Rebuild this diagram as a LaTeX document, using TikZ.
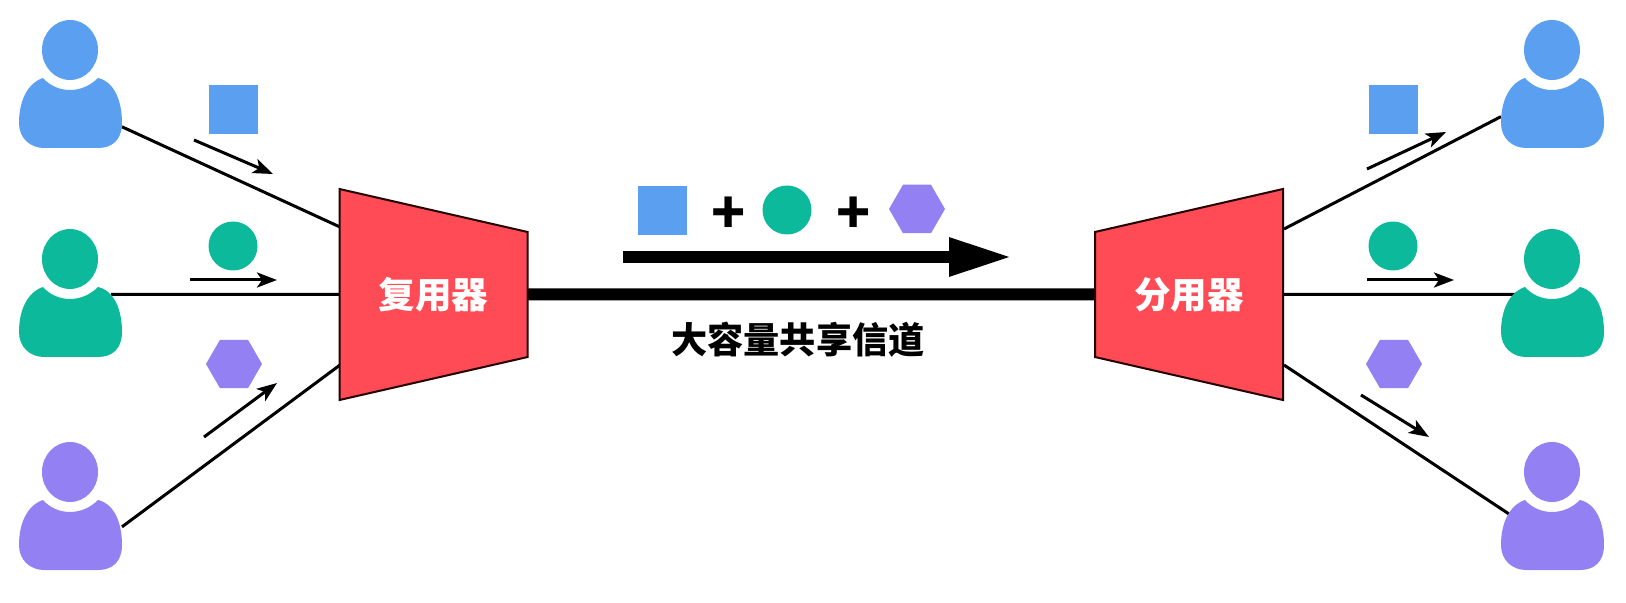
\documentclass[tikz,border=0pt]{standalone}
\usepackage{fontspec}
\newfontfamily\cjk{Noto Sans CJK SC}
\usetikzlibrary{shapes.geometric,arrows.meta,backgrounds}
\definecolor{userblue}{RGB}{91,160,240}
\definecolor{usergreen}{RGB}{12,185,155}
\definecolor{userpurple}{RGB}{147,128,242}
\definecolor{muxred}{RGB}{255,75,85}
\tikzset{
  person/.pic={
    \fill[pic actions] (0,0) ellipse [x radius=28,y radius=30];
    \fill[pic actions] (-27,28) .. controls (-20,36) and (-10,40) .. (0,40)
      .. controls (10,40) and (20,36) .. (28,28)
      .. controls (45,32) and (52,52) .. (52,73)
      .. controls (52,90) and (42,98) .. (28,98) -- (-26,98)
      .. controls (-40,98) and (-51,88) .. (-51,73)
      .. controls (-51,50) and (-42,33) .. (-27,28) -- cycle;
    \node[minimum width=10.3mm,minimum height=7mm,inner sep=0pt,outer sep=0pt] (-body) at (0.5,63) {};
  },
  link/.style={line width=0.3mm},
  flow/.style={-{Stealth[length=2mm,width=1.5mm,inset=0.5mm]},line width=0.3mm},
  squareitem/.style={rectangle,fill=userblue,minimum size=4.9mm,inner sep=0pt,outer sep=0pt},
  circleitem/.style={circle,fill=usergreen,minimum size=4.9mm,inner sep=0pt,outer sep=0pt},
  hexitem/.style={regular polygon,regular polygon sides=6,fill=userpurple,minimum size=5.6mm,inner sep=0pt,outer sep=0pt},
  muxbox/.style={trapezium,draw=black!85!red,line width=0.2mm,fill=muxred,inner sep=0pt,outer sep=0pt,
    trapezium left angle=68.6,trapezium right angle=68.6,trapezium stretches body=true,
    minimum width=21.1mm,minimum height=18.8mm,text=white,font=\cjk\bfseries\fontsize{10.4}{12}\selectfont},
  plussign/.style={font=\cjk\bfseries\fontsize{16}{18}\selectfont,inner sep=0pt}
}
\begin{document}
\begin{tikzpicture}[x=0.1mm,y=-0.1mm]
  \useasboundingbox (0,0) rectangle (1626,603);
  \pic[fill=userblue] (inblue) at (70,50) {person};
  \pic[fill=usergreen] (ingreen) at (70,259) {person};
  \pic[fill=userpurple] (inpurple) at (70,472) {person};
  \pic[fill=userblue] (outblue) at (1552,50) {person};
  \pic[fill=usergreen] (outgreen) at (1552,259) {person};
  \pic[fill=userpurple] (outpurple) at (1552,472) {person};
  \node[muxbox,shape border rotate=270] (mux) at (433.5,294.5) {复用器};
  \node[muxbox,shape border rotate=90] (demux) at (1189,294.5) {分用器};
  \node[squareitem] (squarein) at (233.5,109.5) {};
  \node[circleitem] (circlein) at (233,246) {};
  \node[hexitem] (hexin) at (234,364) {};
  \node[squareitem] (squareout) at (1393,109.5) {};
  \node[circleitem] (circleout) at (1393,246) {};
  \node[hexitem] (hexout) at (1394,364) {};
  \node[squareitem] (squaresum) at (662,211) {};
  \node[plussign] (plusone) at (729,215) {+};
  \node[circleitem] (circlesum) at (787,210) {};
  \node[plussign] (plustwo) at (854,215) {+};
  \node[hexitem] (hexsum) at (917,209) {};
  \node[font=\cjk\bfseries\fontsize{10.3}{12}\selectfont,inner sep=0pt] (channel) at (798,340) {大容量共享信道};
  \coordinate (muxtop) at (340,227);
  \coordinate (muxbottom) at (340,365);
  \coordinate (demuxtop) at (1284,229);
  \coordinate (demuxbottom) at (1284,365);
  \coordinate (ingreenport) at (111,294.5);
  \coordinate (outgreenport) at (1516,294.5);
  \coordinate (outpurpleport) at (1512,516);
  \coordinate (sumstart) at (623,257);
  \coordinate (sumend) at (1012,257);
  \coordinate (a1) at (194,140);
  \coordinate (a2) at (273,174);
  \coordinate (b1) at (190,280);
  \coordinate (b2) at (277,280);
  \coordinate (c1) at (204,437);
  \coordinate (c2) at (277,383);
  \coordinate (d1) at (1367,169);
  \coordinate (d2) at (1446,132);
  \coordinate (e1) at (1367,280);
  \coordinate (e2) at (1454,280);
  \coordinate (f1) at (1361,395);
  \coordinate (f2) at (1429,437);
  \begin{scope}[on background layer]
    \draw[link] (inblue-body.-15) -- (muxtop);
    \draw[link] (ingreenport) -- (mux);
    \draw[link] (inpurple-body.9) -- (muxbottom);
    \draw[link] (demuxtop) -- (outblue-body.184);
    \draw[link] (demux) -- (outgreenport);
    \draw[link] (demuxbottom) -- (outpurpleport);
    \draw[line width=1.2mm] (mux) -- (demux);
  \end{scope}
  \draw[-{Triangle[length=6.3mm,width=3.6mm]},line width=1.2mm] (sumstart) -- (sumend);
  \foreach \from/\to in {a1/a2,b1/b2,c1/c2,d1/d2,e1/e2,f1/f2}
    \draw[flow] (\from) -- (\to);
\end{tikzpicture}
\end{document}
